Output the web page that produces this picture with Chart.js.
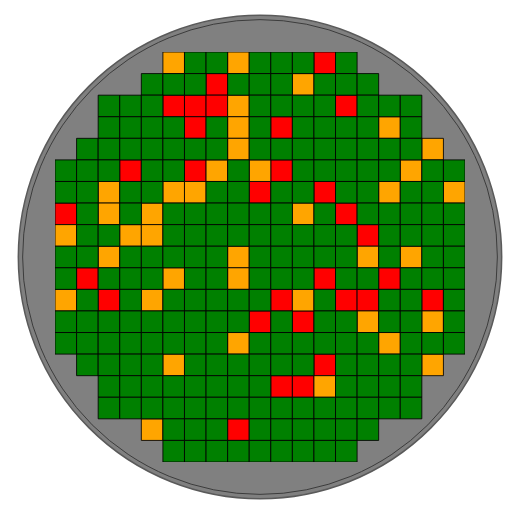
<!DOCTYPE html>
<html>
<head>
<meta charset="utf-8">
<script src="https://cdn.jsdelivr.net/npm/chart.js@4"></script>
<style>
html,body{margin:0;padding:0;background:#fff;}
#wrap{width:524px;height:519px;}
</style>
</head>
<body>
<div id="wrap"><canvas id="c" width="524" height="519"></canvas></div>
<script>
// Wafer map: 19 x 19 die grid. G = pass, O = marginal, R = fail
const gridSize = 19;
const rowStart = [5,4,2,2,1,0,0,0,0,0,0,0,0,0,1,2,2,4,5];
const rowBins = [
  "OGGOGGGRG",
  "GGGRGGGOGGG",
  "GGGRRROGGGGRGGG",
  "GGGGRGOGRGGGGOG",
  "GGGGGGGOGGGGGGGGO",
  "GGGRGGROGORGGGGGOGG",
  "GGOGGOOGGRGGRGGOGGO",
  "RGOGOGGGGGGOGRGGGGG",
  "OGGOOGGGGGGGGGRGGGG",
  "GGOGGGGGOGGGGGOGOGG",
  "GRGGGOGGOGGGRGGRGGG",
  "OGRGOGGGGGROGRRGGRG",
  "GGGGGGGGGRGRGGOGGOG",
  "GGGGGGGGOGGGGGGOGGG",
  "GGGGOGGGGGGRGGGGO",
  "GGGGGGGGRROGGGG",
  "GGGGGGGGGGGGGGG",
  "OGGGRGGGGGG",
  "GGGGGGGGG"
];
const binCodes = ["G","O","R"];
const binLabels = ["Pass","Marginal","Fail"];
const binColors = ["#008000","#FFA500","#FF0000"];
const waferRadiusCells = 11.2;
const waferInnerRadiusCells = 11.0;

const datasets = binCodes.map((code, bi) => {
  const pts = [];
  rowBins.forEach((row, r) => {
    for (let i = 0; i < row.length; i++) {
      if (row[i] === code) pts.push({x: rowStart[r] + i, y: r});
    }
  });
  return {
    label: binLabels[bi],
    data: pts,
    pointStyle: 'rect',
    backgroundColor: binColors[bi],
    borderColor: 'rgba(0,0,0,0.85)',
    borderWidth: 1,
    pointRadius: (ctx) => {
      const s = ctx.chart.scales.x;
      return Math.abs(s.getPixelForValue(1) - s.getPixelForValue(0)) * Math.SQRT1_2;
    },
    pointHoverRadius: (ctx) => {
      const s = ctx.chart.scales.x;
      return Math.abs(s.getPixelForValue(1) - s.getPixelForValue(0)) * Math.SQRT1_2;
    }
  };
});

const waferPlugin = {
  id: 'wafer',
  beforeDatasetsDraw(chart) {
    const {ctx, scales} = chart;
    const mid = (gridSize - 1) / 2;
    const cx = scales.x.getPixelForValue(mid);
    const cy = scales.y.getPixelForValue(mid);
    const cell = Math.abs(scales.x.getPixelForValue(1) - scales.x.getPixelForValue(0));
    ctx.save();
    ctx.beginPath();
    ctx.arc(cx, cy, waferRadiusCells * cell, 0, Math.PI * 2);
    ctx.fillStyle = '#808080';
    ctx.fill();
    ctx.lineWidth = 1.5;
    ctx.strokeStyle = '#5a5a5a';
    ctx.stroke();
    ctx.beginPath();
    ctx.arc(cx, cy, waferInnerRadiusCells * cell, 0, Math.PI * 2);
    ctx.lineWidth = 1;
    ctx.strokeStyle = '#3c3c3c';
    ctx.stroke();
    ctx.restore();
  }
};

new Chart(document.getElementById('c'), {
  type: 'scatter',
  data: { datasets },
  options: {
    responsive: false,
    animation: false,
    events: [],
    layout: { padding: { left: 55, right: 59, top: 52, bottom: 57 } },
    plugins: { legend: { display: false }, tooltip: { enabled: false } },
    scales: {
      x: { type: 'linear', min: -0.5, max: gridSize - 0.5, display: false },
      y: { type: 'linear', min: -0.5, max: gridSize - 0.5, reverse: true, display: false }
    }
  },
  plugins: [waferPlugin]
});
</script>
</body>
</html>
